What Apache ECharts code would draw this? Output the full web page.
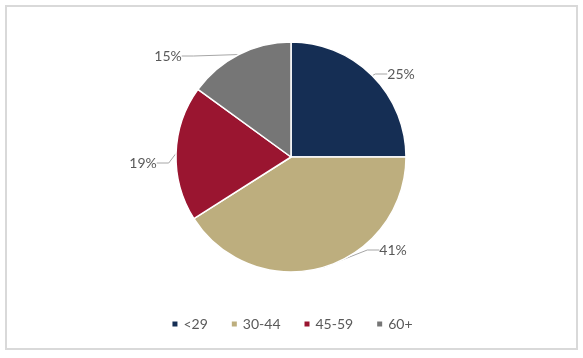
<!DOCTYPE html>
<html><head><meta charset="utf-8">
<script src="https://cdn.jsdelivr.net/npm/echarts@6/dist/echarts.min.js"></script>
<style>html,body{margin:0;padding:0;background:#fff}#c{width:583px;height:358px;position:relative}
#frame{position:absolute;left:5px;top:5px;width:569px;height:341px;border:2px solid #d9d9d9;box-sizing:content-box;pointer-events:none}</style>
</head><body><div id="c"></div><div id="frame"></div>
<script>
const categories = ['<29', '30-44', '45-59', '60+'];
const values = [25, 41, 19, 15];
const colors = ['#152E54', '#BDAE7E', '#9A1530', '#767676'];
// label anchor positions (layout only)
const labelPos = [[401, 74], [393, 250], [143, 163], [168, 56]];
const chart = echarts.init(document.getElementById('c'));
chart.setOption({
  animation: false,
  color: colors,
  legend: {
    bottom: 22, left: 'center', icon: 'rect', itemWidth: 7, itemHeight: 7, itemGap: 22,
    textStyle: {color: '#595959', fontSize: 14, fontFamily: 'Lato'},
    data: categories
  },
  series: [{
    type: 'pie', center: [291, 157], radius: 115, startAngle: 90, clockwise: true,
    itemStyle: {borderColor: '#fff', borderWidth: 1.5},
    label: {formatter: '{c}%', color: '#595959', fontSize: 14, fontFamily: 'Lato'},
    labelLine: {length: 10, length2: 12, lineStyle: {color: '#A6A6A6', width: 1}},
    labelLayout: function (p) {
      const q = labelPos[p.dataIndex];
      return {x: q[0], y: q[1], align: 'center', verticalAlign: 'middle'};
    },
    data: categories.map((n, i) => ({name: n, value: values[i]}))
  }]
});
</script></body></html>
